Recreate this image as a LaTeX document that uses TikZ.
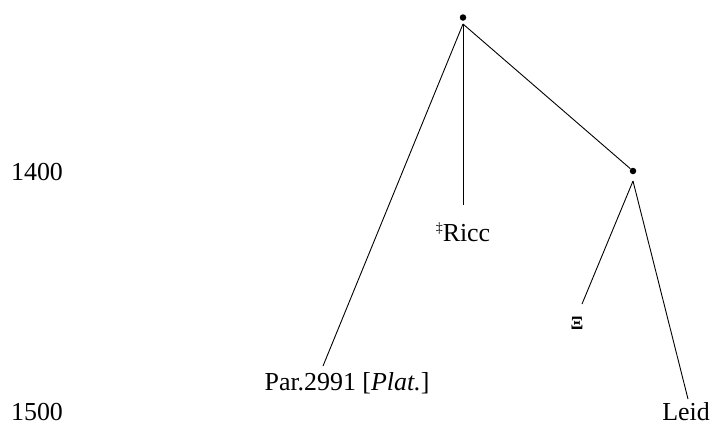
\documentclass[tikz,border=0pt]{standalone}
\usepackage{fontspec}
\setmainfont{Liberation Serif}
\begin{document}
\begin{tikzpicture}[x=1bp,y=-1bp,
  lbl/.style={inner sep=0pt,font=\fontsize{26}{30}\selectfont},
  dotn/.style={circle,fill=black,inner sep=0pt,minimum size=6.5bp},
  br/.style={line width=0.9bp}]
\useasboundingbox (0,0) rectangle (713,425);
\node[dotn] (top) at (463,17.5) {};
\node[dotn] (mid) at (633,171) {};
\coordinate (topb) at (463,24);
\coordinate (midb) at (633,181);
\coordinate (pend) at (323,366);
\coordinate (rend) at (463,205);
\coordinate (xend) at (582,304);
\coordinate (lend) at (688,399);
\node[lbl] (par) at (347,383) {Par.2991 [\textit{Plat.}]};
\node[lbl] (ricc) at (463,232) {\raisebox{0.35em}{\fontsize{14}{16}\selectfont‡}Ricc};
\node[lbl] (xi) at (577,323) {\fontsize{19}{20}\selectfont\textbf{Ξ}};
\node[lbl] (leid) at (686,412) {Leid};
\node[lbl] (y1) at (37,172) {1400};
\node[lbl] (y2) at (37,412) {1500};
\draw[br] (topb) -- (pend);
\draw[br] (topb) -- (rend);
\draw[br] (topb) -- (mid);
\draw[br] (midb) -- (xend);
\draw[br] (midb) -- (lend);
\end{tikzpicture}
\end{document}
